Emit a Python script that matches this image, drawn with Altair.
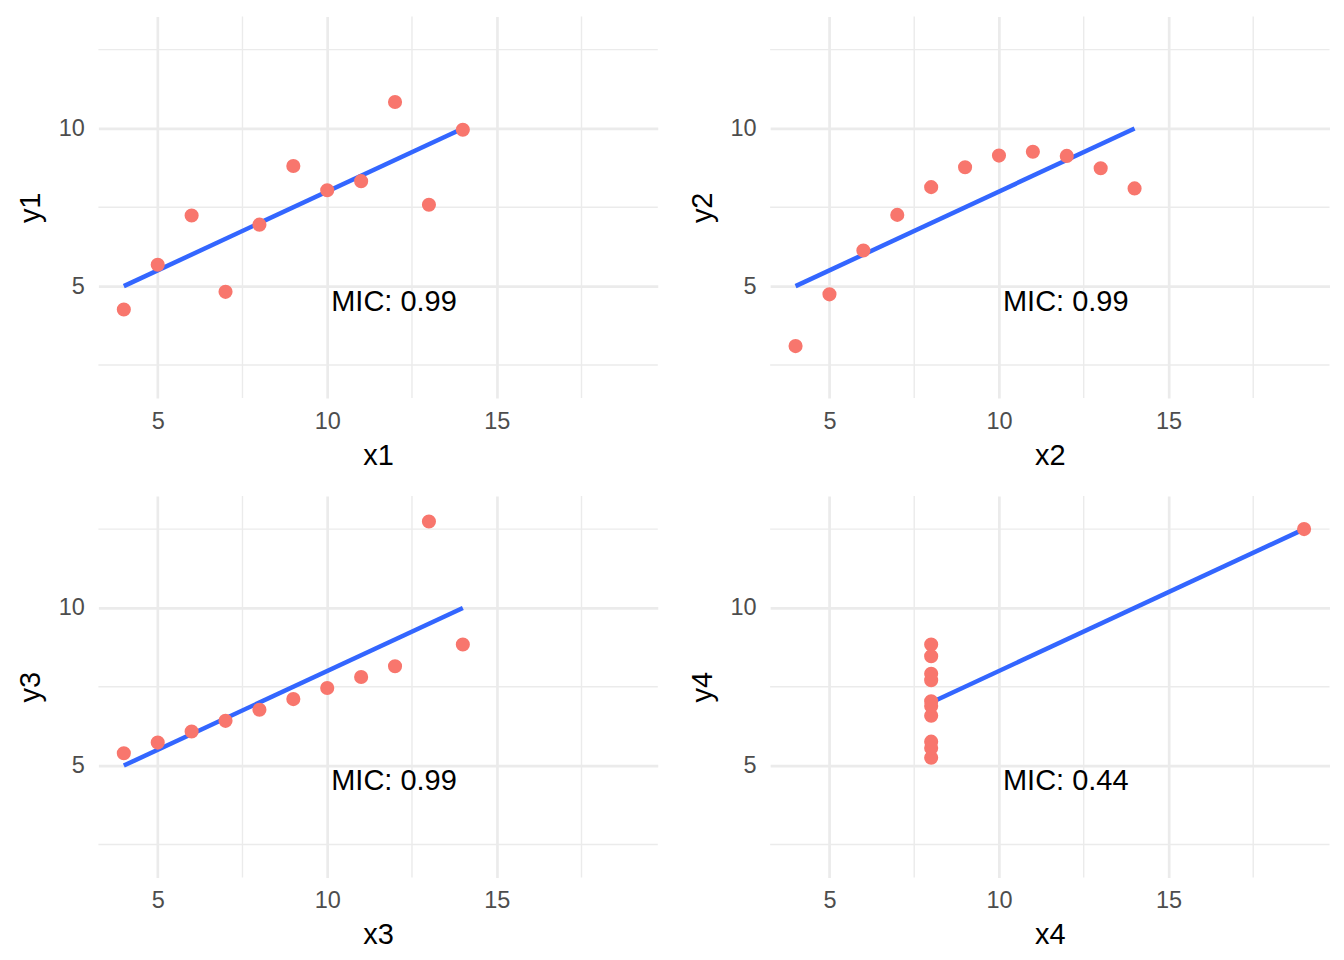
import altair as alt
import pandas as pd

# Anscombe's quartet
x123 = [10, 8, 13, 9, 11, 14, 6, 4, 12, 7, 5]
y1 = [8.04, 6.95, 7.58, 8.81, 8.33, 9.96, 7.24, 4.26, 10.84, 4.82, 5.68]
y2 = [9.14, 8.14, 8.74, 8.77, 9.26, 8.10, 6.13, 3.10, 9.13, 7.26, 4.74]
y3 = [7.46, 6.77, 12.74, 7.11, 7.81, 8.84, 6.08, 5.39, 8.15, 6.42, 5.73]
x4 = [8, 8, 8, 8, 8, 8, 8, 19, 8, 8, 8]
y4 = [6.58, 5.76, 7.71, 8.84, 8.47, 7.04, 5.25, 12.50, 5.56, 7.91, 6.89]
mic = ["0.99", "0.99", "0.99", "0.44"]

x_major = [5, 10, 15]
y_major = [5, 10]
x_minor = [7.5, 12.5, 17.5]
y_minor = [2.5, 7.5, 12.5]

FONT = "Liberation Sans"
GRID = "#EBEBEB"
xscale = alt.Scale(domain=[3.25, 19.75], nice=False, zero=False)
yscale = alt.Scale(domain=[1.45, 13.55], nice=False, zero=False)


def axis(values, label_pad, title_pad):
    return alt.Axis(values=values, grid=True, gridColor=GRID, gridWidth=2.7,
                    ticks=False, tickSize=0, domain=False, labelPadding=label_pad,
                    labelFontSize=23.5, labelColor="#4D4D4D", labelFont=FONT,
                    titleFontSize=29, titleColor="black", titleFont=FONT,
                    titleFontWeight="normal", titlePadding=title_pad)


def panel(i, xs, ys, m):
    df = pd.DataFrame({"x": xs, "y": ys})
    base = alt.Chart(df)
    xenc = alt.X("x:Q", scale=xscale, title=f"x{i}", axis=axis(x_major, 11, 8.5))
    yenc = alt.Y("y:Q", scale=yscale, title=f"y{i}", axis=axis(y_major, 14, 12.5))

    vminor = alt.Chart(pd.DataFrame({"x": x_minor})).mark_rule(
        color=GRID, strokeWidth=1.4).encode(x=xenc)
    hminor = alt.Chart(pd.DataFrame({"y": y_minor})).mark_rule(
        color=GRID, strokeWidth=1.4).encode(y=yenc)
    line = base.transform_regression("x", "y").mark_line(
        color="#3366FF", strokeWidth=4.5).encode(x=xenc, y=yenc)
    pts = base.mark_circle(size=200, color="#F8766D", opacity=1).encode(x=xenc, y=yenc)
    txt = alt.Chart(pd.DataFrame({"a": [0]})).mark_text(
        align="left", baseline="middle", fontSize=29, font=FONT, color="black", dx=4
    ).encode(x=alt.datum(10), y=alt.datum(4.5), text=alt.value(f"MIC: {m}"))
    return alt.layer(vminor, hminor, line, pts, txt).properties(width=560, height=382)


row1 = alt.hconcat(panel(1, x123, y1, mic[0]), panel(2, x123, y2, mic[1]), spacing=29.5)
row2 = alt.hconcat(panel(3, x123, y3, mic[2]), panel(4, x4, y4, mic[3]), spacing=29.5)
chart = alt.vconcat(row1, row2, spacing=25).properties(
    padding={"left": 8.5, "top": 7, "right": 5, "bottom": 5},
    background="white",
).configure_view(stroke=None)

chart.save("out.html", embed_options={"renderer": "svg", "actions": False})
